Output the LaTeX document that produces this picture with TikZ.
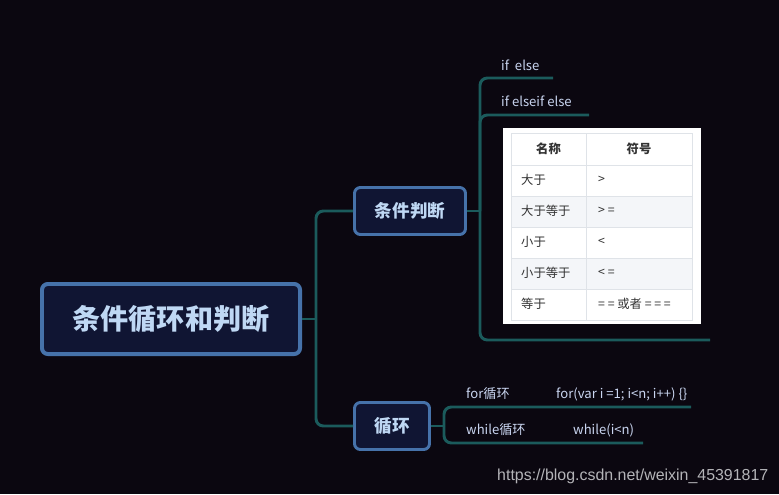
\documentclass[tikz,border=0pt]{standalone}
\usepackage{fontspec}
\setmainfont{Noto Sans CJK SC}
\newfontfamily\markfont{Liberation Sans}
\usepackage{xcolor}
\definecolor{bgDark}{HTML}{0B0710}
\definecolor{nodeFill}{HTML}{101533}
\definecolor{nodeBorder}{HTML}{4672AA}
\definecolor{nodeText}{HTML}{BFD8F4}
\definecolor{lineTeal}{HTML}{1B5B5C}
\definecolor{leafText}{HTML}{C9D5F0}
\definecolor{gridGray}{HTML}{DFE3E8}
\definecolor{rowGray}{HTML}{F4F6F9}
\definecolor{cellText}{HTML}{333333}
\definecolor{markGray}{HTML}{B4B4B8}
\usetikzlibrary{positioning,calc}
\tikzset{
    % Base style for the topic boxes
    topic base/.style={
        draw=nodeBorder,
        fill=nodeFill,
        text=nodeText,
        line width=2.5pt,
        rounded corners=5pt,
        align=center,
        inner sep=0pt,
    },
    % Central topic
    root/.style={
        topic base,
        line width=3.4pt,
        minimum width=7.74cm,
        minimum height=2.1cm,
        font=\bfseries\fontsize{24}{27}\selectfont,
    },
    % Main branches
    topic/.style={
        topic base,
        minimum height=1.41cm,
        font=\bfseries\fontsize{15}{18}\selectfont,
    },
    % Teal connectors
    branch/.style={
        draw=lineTeal,
        line width=2.5pt,
        rounded corners=0.22cm,
    },
    % Texts sitting on a branch
    leaf/.style={
        anchor=base west,
        text=leafText,
        inner sep=0pt,
        font=\fontsize{11.2}{13}\selectfont,
    },
    % Table cells
    cell/.style={
        text=cellText,
        inner sep=0pt,
        font=\fontsize{10.5}{12}\selectfont,
    },
    grid/.style={draw=gridGray, line width=0.7pt},
}

\begin{document}
\begin{tikzpicture}[x=0.03cm, y=-0.03cm]
    \fill[bgDark] (0,0) rectangle (779,494);
    \useasboundingbox (0,0) rectangle (779,494);

    % topics
    \node (root) [root] at (171,319) {条件循环和判断};
    \node (cond) [topic, minimum width=3.33cm] at (410,211) {条件判断};
    \node (loop) [topic, minimum width=2.25cm] at (392,426) {循环};

    \coordinate (rootFork) at (316,319);
    \draw [branch] (root.east) -- (rootFork);
    \draw [branch] (rootFork) |- (cond.west);
    \draw [branch] (rootFork) |- (loop.west);

    % 条件判断 branch
    \coordinate (condFork) at (480,211);
    \coordinate (ifEnd) at (553,78);
    \coordinate (elifEnd) at (589,115);
    \coordinate (tableEnd) at (710,340);
    \draw [branch] (cond.east) -- (condFork);
    \draw [branch] (condFork) |- (ifEnd);
    \draw [branch] (condFork) |- (elifEnd);
    \draw [branch] (condFork) |- (tableEnd);

    \node (ifElse) [leaf] at (501,70) {if\ \ else};
    \node (ifElif) [leaf] at (501,106) {if elseif else};

    % table
    \node (table) [fill=white, minimum width=5.94cm, minimum height=5.88cm, inner sep=0pt] at (602,226) {};
    \fill[rowGray] (511,196) rectangle (692,227);
    \fill[rowGray] (511,258) rectangle (692,289);
    \draw[grid] (511,133) rectangle (692,320);
    \foreach \y in {165,196,227,258,289}
        \draw[grid] (511,\y) -- (692,\y);
    \draw[grid] (586,133) -- (586,320);
    \node (headName) [cell, font=\bfseries\fontsize{10.5}{12}\selectfont] at (548.5,149) {名称};
    \node (headSym) [cell, font=\bfseries\fontsize{10.5}{12}\selectfont] at (639,149) {符号};
    \foreach \nm/\sym [count=\r] in {大于/{>}, 大于等于/{> =}, 小于/{<}, 小于等于/{< =}, 等于/{= = 或者 = = =}}{
        \node (name\r) [cell, anchor=west] at (521,149+31*\r) {\nm};
        \node (sym\r) [cell, anchor=west] at (598,149+31*\r) {\sym};
    }

    % 循环 branch
    \coordinate (loopFork) at (444,426);
    \coordinate (forEnd) at (691,407);
    \coordinate (whileEnd) at (643,443);
    \draw [branch] (loop.east) -- (loopFork);
    \draw [branch] (loopFork) |- (forEnd);
    \draw [branch] (loopFork) |- (whileEnd);

    \node (forLoop) [leaf] at (466,398) {for循环};
    \node (forCode) [leaf] at (556,398) {for(var i =1; i<n; i++) \{\}};
    \node (whileLoop) [leaf] at (466,434) {while循环};
    \node (whileCode) [leaf] at (573,434) {while(i<n)};

    \node (mark) [anchor=base west, inner sep=0pt, text=markGray, font=\markfont\fontsize{13.6}{16}\selectfont] at (497,480) {https://blog.csdn.net/weixin\_45391817};
\end{tikzpicture}
\end{document}
